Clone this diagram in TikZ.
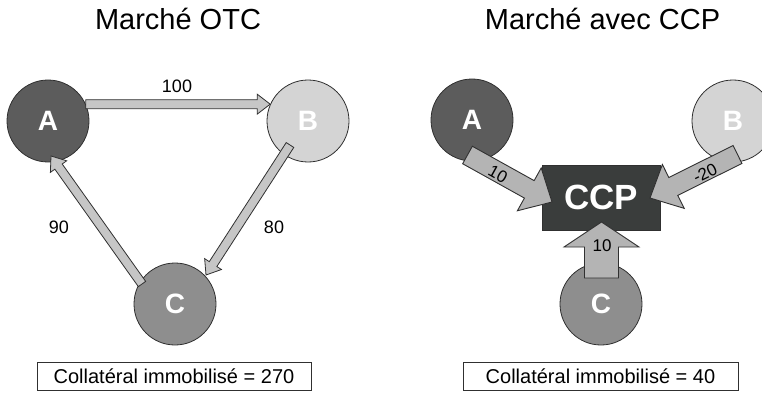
\documentclass[tikz,border=0pt]{standalone}
\usepackage{fontspec}
\setmainfont{Liberation Sans}
\usetikzlibrary{calc}
\definecolor{cA}{HTML}{5C5C5C}
\definecolor{cB}{HTML}{D4D4D4}
\definecolor{cC}{HTML}{8E8E8E}
\definecolor{cCCP}{HTML}{3A3D3C}
\definecolor{cArr}{HTML}{B4B4B4}
\definecolor{cHol}{HTML}{C6C6C6}
\definecolor{cLine}{HTML}{303030}
\newcommand{\blockarr}[6]{%
  \coordinate (ba-b) at ($(#3)!#6!(#2)$);
  \filldraw[#1] ($(#2)!#4!90:(#3)$) -- ($(ba-b)!#4!-90:(#2)$) -- ($(ba-b)!#5!-90:(#2)$) -- (#3)
    -- ($(ba-b)!#5!90:(#2)$) -- ($(ba-b)!#4!90:(#2)$) -- ($(#2)!#4!-90:(#3)$) -- cycle;
}
\tikzset{
  party/.style={circle, draw=cLine, line width=0.8pt, minimum size=82pt, inner sep=0pt,
    text=white, font=\fontsize{28}{30}\selectfont\bfseries},
  hollow/.style={fill=cHol, draw=cLine, line width=0.8pt},
  blockstyle/.style={fill=cArr, draw=cLine, line width=0.9pt},
  titletext/.style={anchor=base, font=\fontsize{29}{32}\selectfont},
  numlabel/.style={font=\fontsize{18}{20}\selectfont, inner sep=0pt},
  arrlabel/.style={font=\fontsize{17}{19}\selectfont, inner sep=0pt},
  sumbox/.style={draw=cLine, line width=0.7pt, minimum width=274pt, minimum height=28pt,
    inner sep=0pt, font=\fontsize{20}{22}\selectfont},
}
\begin{document}
\begin{tikzpicture}[x=1pt,y=-1pt]
\useasboundingbox (0,0) rectangle (762,393);
\clip (0,0) rectangle (762,393);

% ---------- left panel ----------
\node[titletext] (t1) at (178,30) {Marché OTC};
\node[party, fill=cA] (lA) at (48,121) {A};
\node[party, fill=cB] (lB) at (308,121) {B};
\node[party, fill=cC] (lC) at (175,304) {C};

\coordinate (ab1) at (lA.24);
\coordinate (ab2) at (lB.156);
\blockarr{hollow}{ab1}{ab2}{4.5pt}{10pt}{13pt}
\coordinate (ca1) at (142,284);
\coordinate (ca2) at (51,156);
\blockarr{hollow}{ca1}{ca2}{4.5pt}{10pt}{13pt}
\coordinate (bc1) at (290,145);
\coordinate (bc2) at (206,275);
\blockarr{hollow}{bc1}{bc2}{4.5pt}{10pt}{13pt}

\node[numlabel] (n100) at (177,86) {100};
\node[numlabel] (n90) at (59,227) {90};
\node[numlabel] (n80) at (274,227) {80};

\node[sumbox] (s1) at (174,376) {Collatéral immobilisé = 270};

% ---------- right panel ----------
\node[titletext] (t2) at (602.5,30) {Marché avec CCP};
\node[party, fill=cA] (rA) at (472,120) {A};
\node[party, fill=cB] (rB) at (733,121) {B};
\node[party, fill=cC] (rC) at (601,304) {C};
\node[fill=cCCP, draw=cLine, line width=0.6pt, minimum width=118pt, minimum height=65pt,
  inner sep=0pt, text=white, font=\fontsize{35}{37}\selectfont\bfseries] (ccp) at (601,197.5) {CCP};

\coordinate (ra1) at (467.5,155);
\coordinate (ra2) at (552,202);
\blockarr{blockstyle}{ra1}{ra2}{10pt}{24.5pt}{26pt}
\coordinate (rb1) at (737.5,154.5);
\coordinate (rb2) at (650,198);
\blockarr{blockstyle}{rb1}{rb2}{10pt}{24.5pt}{26pt}
\coordinate (rc1) at (601.5,278);
\coordinate (rc2) at (601.5,222);
\blockarr{blockstyle}{rc1}{rc2}{17pt}{37.5pt}{25pt}

\node[arrlabel, rotate=-29] (l10a) at (498,174) {10};
\node[arrlabel, rotate=26] (l20) at (705,173) {-20};
\node[arrlabel] (l10c) at (602,246) {10};

\node[sumbox, minimum width=275pt] (s2) at (600.5,376) {Collatéral immobilisé = 40};
\end{tikzpicture}
\end{document}
